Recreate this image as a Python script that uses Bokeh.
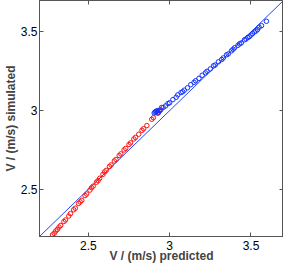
from bokeh.plotting import figure
from bokeh.models import Range1d, FixedTicker, LinearAxis
from bokeh.embed import file_html
from bokeh.resources import INLINE

# Data
red_x = [2.28, 2.29, 2.30, 2.31, 2.32, 2.33, 2.35, 2.36, 2.38, 2.39, 2.41, 2.42,
         2.44, 2.45, 2.46, 2.48, 2.49, 2.51, 2.52, 2.53, 2.55, 2.56, 2.57, 2.59,
         2.60, 2.61, 2.63, 2.64, 2.66, 2.67, 2.69, 2.70, 2.72, 2.73, 2.75, 2.76,
         2.78, 2.79, 2.81, 2.83, 2.84, 2.86, 2.89, 2.90, 2.925, 2.93, 2.94, 2.95]
red_y = [2.21, 2.22, 2.235, 2.245, 2.26, 2.27, 2.295, 2.305, 2.33, 2.345, 2.37, 2.38,
         2.41, 2.42, 2.43, 2.46, 2.47, 2.495, 2.51, 2.52, 2.545, 2.555, 2.57, 2.595,
         2.61, 2.62, 2.645, 2.655, 2.68, 2.69, 2.715, 2.725, 2.75, 2.76, 2.785, 2.795,
         2.82, 2.83, 2.85, 2.875, 2.885, 2.905, 2.945, 2.955, 2.985, 2.99, 3.0, 3.02]

blue_x = [2.905, 2.91, 2.915, 2.92, 2.925, 2.93, 2.935, 2.945, 2.96, 2.975, 2.99, 3.0,
          3.02, 3.04, 3.05, 3.07, 3.08, 3.09, 3.11, 3.13, 3.15, 3.16, 3.18, 3.20,
          3.22, 3.23, 3.25, 3.27, 3.28, 3.30, 3.32, 3.33, 3.35, 3.36, 3.38, 3.39,
          3.40, 3.42, 3.43, 3.44, 3.46, 3.47, 3.48, 3.49, 3.50, 3.51, 3.52, 3.53,
          3.54, 3.55, 3.565, 3.595]
blue_y = [2.985, 2.99, 2.995, 2.995, 3.0, 2.985, 3.0, 3.005, 3.02, 3.03, 3.045, 3.05,
          3.07, 3.085, 3.10, 3.115, 3.12, 3.13, 3.145, 3.165, 3.18, 3.19, 3.205, 3.225,
          3.24, 3.25, 3.265, 3.285, 3.29, 3.31, 3.325, 3.335, 3.355, 3.36, 3.38, 3.39,
          3.40, 3.415, 3.425, 3.43, 3.45, 3.455, 3.465, 3.47, 3.48, 3.49, 3.50, 3.505,
          3.515, 3.53, 3.54, 3.568]

diag = [2.2, 3.7]
tick_values = [2.5, 3, 3.5]
tick_labels = ["2.5", "3", "3.5"]
x_label = "V / (m/s) predicted"
y_label = "V / (m/s) simulated"

FONT = "Liberation Sans"
AXC = "#555555"

p = figure(width=283, height=265, output_backend="svg", toolbar_location=None,
           x_range=Range1d(2.2, 3.7), y_range=Range1d(2.2, 3.7),
           min_border_left=0, min_border_right=0, min_border_top=0, min_border_bottom=0)
p.grid.visible = False
p.outline_line_color = AXC
p.background_fill_color = "white"
p.border_fill_color = "white"

overrides = {v: l for v, l in zip(tick_values, tick_labels)}
for ax, lab in ((p.xaxis[0], x_label), (p.yaxis[0], y_label)):
    ax.ticker = FixedTicker(ticks=tick_values)
    ax.major_label_overrides = overrides
    ax.axis_label = lab
    ax.axis_label_text_font = FONT
    ax.axis_label_text_font_style = "bold"
    ax.axis_label_text_font_size = "12px"
    ax.major_label_text_font = FONT
    ax.major_label_text_font_size = "12px"
    ax.major_label_text_color = "black"
    ax.axis_line_color = AXC
    ax.major_tick_line_color = AXC
    ax.major_tick_in = 4
    ax.major_tick_out = 0
    ax.minor_tick_line_color = None
p.xaxis[0].major_label_standoff = 4
p.xaxis[0].axis_label_standoff = -4
p.yaxis[0].major_label_standoff = 2
p.yaxis[0].axis_label_standoff = 0

blank = {v: "" for v in tick_values}
for loc in ("above", "right"):
    a = LinearAxis(ticker=FixedTicker(ticks=tick_values), major_label_overrides=blank,
                   axis_line_color=AXC, major_tick_line_color=AXC, major_tick_in=4,
                   major_tick_out=0, minor_tick_line_color=None, major_label_standoff=0)
    p.add_layout(a, loc)

p.line(diag, diag, line_color="#2244ff", line_width=1)
p.scatter(red_x, red_y, marker="circle", size=4.5, fill_color=None, line_color="#ff1111", line_width=1)
p.scatter(blue_x, blue_y, marker="circle", size=4.5, fill_color=None, line_color="#1133ff", line_width=1)

open("out.html", "w").write(file_html(p, INLINE))
